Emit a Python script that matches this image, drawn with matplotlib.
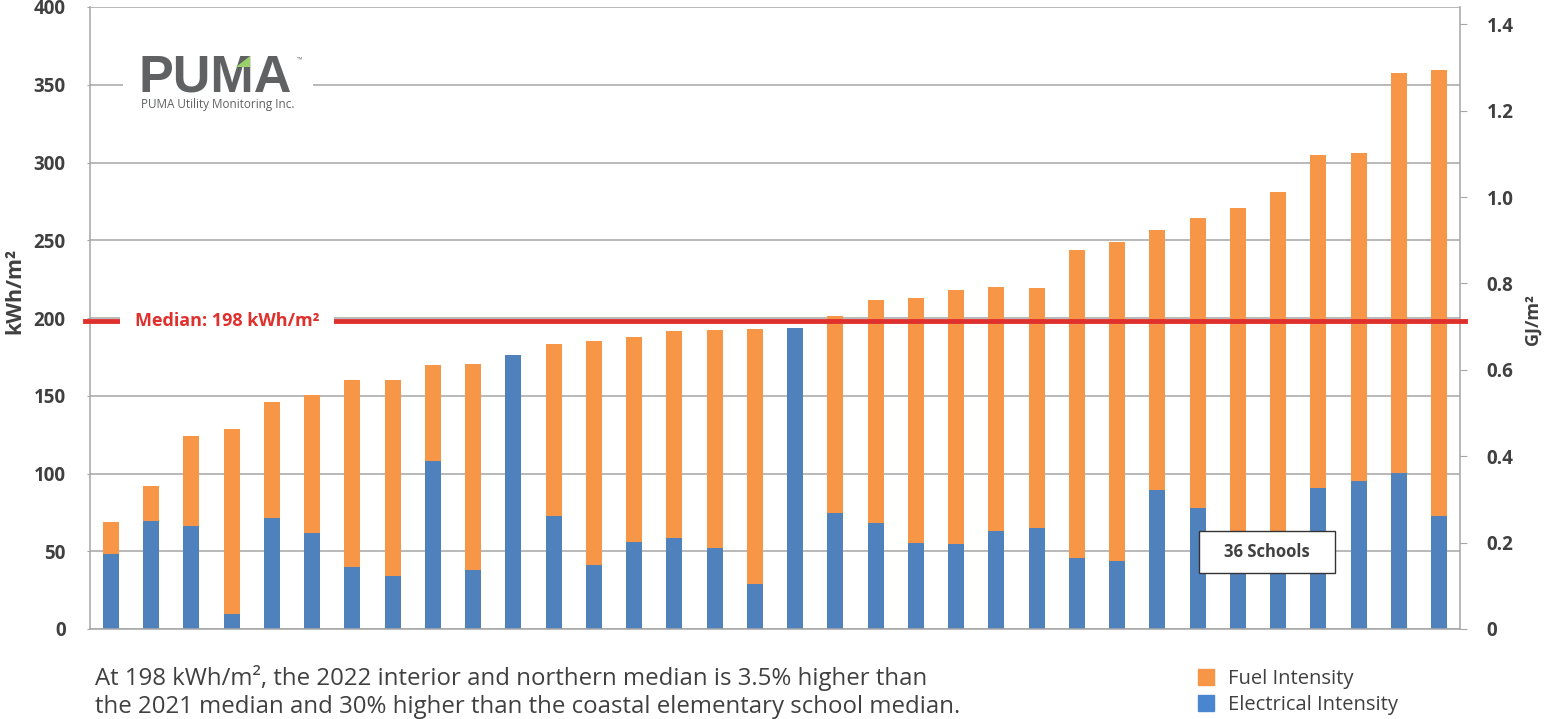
import matplotlib.pyplot as plt
import matplotlib.patches as mpatches
import matplotlib.transforms as mtransforms
import numpy as np

# -----------------------------
# Energy intensity per school (kWh/m2), sorted by total
# -----------------------------
electrical = [48.4, 69.4, 66.4, 9.4, 71.4, 61.5, 40.0, 33.9, 108.0, 37.9,
              176.1, 72.9, 41.1, 55.7, 58.5, 52.1, 28.9, 193.5, 74.4, 68.1,
              55.3, 54.6, 63.0, 65.1, 45.9, 43.5, 89.1, 78.0, 60.0, 58.0,
              90.6, 95.1, 100.3, 72.9]
fuel = [20.2, 22.7, 57.6, 119.0, 74.3, 89.1, 120.0, 126.1, 62.0, 132.2,
        0.0, 110.6, 144.3, 132.1, 133.1, 140.0, 163.8, 0.0, 127.1, 143.7,
        157.3, 163.6, 156.7, 154.5, 197.7, 205.4, 167.7, 186.0, 211.0, 223.3,
        214.2, 211.1, 257.0, 286.9]
median_kwh = 198
kwh_ticks = [0, 50, 100, 150, 200, 250, 300, 350, 400]
gj_ticks = [0, 0.2, 0.4, 0.6, 0.8, 1.0, 1.2, 1.4]
gj_labels = ["0", "0.2", "0.4", "0.6", "0.8", "1.0", "1.2", "1.4"]
kwh_to_gj = 0.0036

footnote = [
    "At 198 kWh/m², the 2022 interior and northern median is 3.5% higher than",
    "the 2021 median and 30% higher than the coastal elementary school median.",
]

ORANGE = "#F79646"
BLUE = "#4F81BD"
GRID = "#a6a6a6"
DARK = "#404040"
RED = "#e0302d"

plt.rcParams['font.family'] = ['Open Sans', 'DejaVu Sans']

W, H = 1552, 719
fig = plt.figure(figsize=(W / 100, H / 100), dpi=100)
ax = fig.add_axes([90 / W, 1 - 629 / H, 1370 / W, 622 / H])

x = np.arange(len(electrical))
ax.bar(x, electrical, width=0.4, color=BLUE, zorder=2)
ax.bar(x, fuel, width=0.4, bottom=electrical, color=ORANGE, zorder=2)

ax.set_xlim(-0.52, len(x) - 0.48)
ax.set_ylim(0, 400)
ax.set_yticks(kwh_ticks)
ax.set_xticks([])
ax.grid(axis="y", color=GRID, linewidth=1.1, zorder=0)
ax.set_axisbelow(True)
for s in ["top", "right"]:
    ax.spines[s].set_visible(False)
for s in ["left", "bottom"]:
    ax.spines[s].set_color(GRID)
    ax.spines[s].set_linewidth(1.1)
ax.tick_params(axis="y", length=2.5, color=GRID, pad=15, labelsize=13.5,
               labelcolor=DARK)
for lbl in ax.get_yticklabels():
    lbl.set_fontweight("bold")
ax.set_ylabel("kWh/m²", fontsize=15.5, fontweight="bold", color=DARK)
ax.yaxis.set_label_coords(-0.047, 0.543)

# secondary axis in GJ/m2
ax2 = ax.twinx()
ax2.set_ylim(0, 400 * kwh_to_gj)
ax2.set_yticks(gj_ticks)
ax2.set_yticklabels(gj_labels)
for s in ["top", "left", "bottom"]:
    ax2.spines[s].set_visible(False)
ax2.spines["right"].set_color(GRID)
ax2.spines["right"].set_linewidth(1.1)
ax2.tick_params(axis="y", length=5, color=GRID, pad=14, labelsize=13.5,
                labelcolor=DARK)
for lbl in ax2.get_yticklabels():
    lbl.set_fontweight("bold")
ax2.set_ylabel("GJ/m²", fontsize=13, fontweight="bold", color=DARK)
ax2.yaxis.set_label_coords(1.0467, 0.497)

# median line
ax2.axhline(median_kwh * kwh_to_gj, xmin=-0.004, xmax=1.004, color=RED,
            linewidth=3.5, clip_on=False, zorder=5)
trans = mtransforms.blended_transform_factory(ax2.transAxes, ax2.transData)
ax2.text(0.0328, median_kwh * kwh_to_gj, "Median: 198 kWh/m²", transform=trans,
         color=RED, fontsize=13, fontweight="bold", va="center", ha="left",
         zorder=6, bbox=dict(boxstyle="square,pad=0.8", fc="white", ec="none"))

# school count box
ax2.add_patch(mpatches.Rectangle((1109 / 1370, 56 / 622), 136 / 1370, 42 / 622,
                                 transform=ax2.transAxes, fc="white",
                                 ec="#333333", lw=1.0, zorder=6))
ax2.text((1109 + 68) / 1370, 77 / 622, "36 Schools", transform=ax2.transAxes,
         ha="center", va="center", fontsize=12, fontweight="bold", color=DARK,
         zorder=7)

# logo
fig.patches.append(mpatches.Rectangle((123 / W, 1 - 120 / H), 190 / W, 80 / H,
                                      transform=fig.transFigure, fc="white",
                                      ec="none", zorder=1))
fig.text(139 / W, 1 - 92 / H, "PUMA", fontsize=37.5, fontweight="bold",
         color="#5f6163", family="Liberation Sans", ha="left", va="baseline",
         zorder=2)
fig.patches.append(mpatches.Polygon(
    [(236 / W, 1 - 67 / H), (250 / W, 1 - 56 / H), (250 / W, 1 - 67 / H)],
    closed=True, transform=fig.transFigure, fc="#9bcf6a", ec="none", zorder=3))
fig.text(297 / W, 1 - 62 / H, "™", fontsize=5, color="#777777", ha="left",
         va="baseline", zorder=2)
fig.text(141 / W, 1 - 108 / H, "PUMA Utility Monitoring Inc.", fontsize=8.5,
         color="#5f6163", ha="left", va="baseline", zorder=2)

# footnote, one text per line
for i, line in enumerate(footnote):
    fig.text(95 / W, 1 - (685 + 28 * i) / H, line, fontsize=17.3, color=DARK,
             ha="left", va="baseline")

# legend
handles = [mpatches.Patch(color=ORANGE, label="Fuel Intensity"),
           mpatches.Patch(color="#4a86d0", label="Electrical Intensity")]
fig.legend(handles=handles, loc="upper left",
           bbox_to_anchor=(1198 / W, 1 - 669 / H), frameon=False,
           fontsize=14.5, handlelength=0.78, handleheight=0.78,
           handletextpad=0.7, labelspacing=0.3, labelcolor=DARK,
           borderaxespad=0, borderpad=0)

fig.savefig("out.png", dpi=100)
